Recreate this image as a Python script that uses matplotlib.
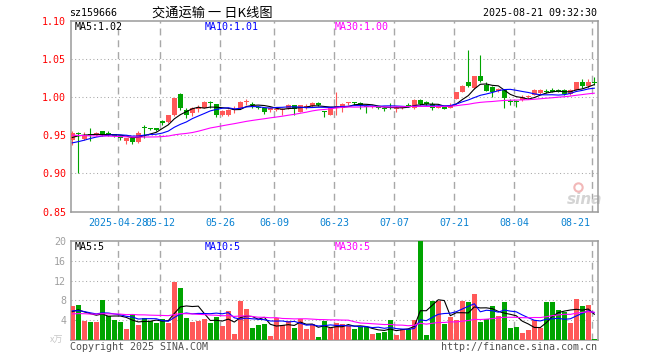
import matplotlib
matplotlib.use("Agg")
import matplotlib.pyplot as plt
import matplotlib.transforms as mtransforms
import numpy as np
import pandas as pd

# ---------------- data ----------------
tick_labels = ["2025-04-28", "05-12", "05-26", "06-09", "06-23", "07-07", "07-21", "08-04", "08-21"]
tick_index = [8, 15, 25, 34, 44, 54, 64, 74, 87]

opens = [0.944, 0.953, 0.945, 0.952, 0.950, 0.955, 0.953, 0.951, 0.949, 0.942,
         0.946, 0.941, 0.961, 0.959, 0.959, 0.969, 0.967, 0.977, 1.004, 0.983,
         0.979, 0.984, 0.986, 0.994, 0.991, 0.976, 0.976, 0.983, 0.985, 0.994,
         0.991, 0.987, 0.985, 0.983, 0.983, 0.983, 0.986, 0.989, 0.981, 0.985,
         0.988, 0.992, 0.981, 0.977, 0.985, 0.986, 0.992, 0.994, 0.992, 0.988,
         0.987, 0.987, 0.986, 0.987, 0.985, 0.985, 0.990, 0.985, 0.996, 0.993,
         0.991, 0.986, 0.987, 0.986, 0.997, 1.006, 1.019, 1.012, 1.028, 1.016,
         1.013, 1.008, 1.009, 0.995, 0.995, 0.996, 1.001, 1.003, 1.005, 1.008,
         1.009, 1.009, 1.009, 1.004, 1.009, 1.019, 1.014, 1.020]
closes = [0.953, 0.951, 0.949, 0.950, 0.953, 0.951, 0.951, 0.949, 0.947, 0.946,
          0.941, 0.953, 0.960, 0.958, 0.957, 0.966, 0.977, 0.999, 0.985, 0.977,
          0.985, 0.987, 0.993, 0.992, 0.976, 0.982, 0.983, 0.984, 0.993, 0.995,
          0.990, 0.985, 0.981, 0.986, 0.984, 0.984, 0.989, 0.984, 0.989, 0.988,
          0.992, 0.989, 0.980, 0.985, 0.988, 0.991, 0.993, 0.992, 0.989, 0.987,
          0.988, 0.985, 0.985, 0.986, 0.986, 0.987, 0.989, 0.996, 0.991, 0.991,
          0.986, 0.988, 0.984, 0.990, 1.006, 1.015, 1.014, 1.027, 1.021, 1.008,
          1.006, 1.011, 0.999, 0.993, 0.993, 1.000, 1.001, 1.009, 1.009, 1.007,
          1.007, 1.007, 1.004, 1.009, 1.019, 1.014, 1.020, 1.019]
highs = [0.955, 0.954, 0.954, 0.959, 0.954, 0.956, 0.955, 0.952, 0.950, 0.947,
         0.947, 0.955, 0.963, 0.960, 0.960, 0.970, 0.977, 0.999, 1.005, 0.985,
         0.987, 0.990, 0.995, 0.995, 0.991, 0.983, 0.984, 0.988, 0.995, 0.997,
         0.993, 0.988, 0.986, 0.987, 0.985, 0.986, 0.991, 0.989, 0.990, 0.991,
         0.993, 0.994, 0.982, 0.986, 1.006, 0.992, 0.994, 0.994, 0.993, 0.989,
         0.989, 0.988, 0.987, 0.992, 0.988, 0.988, 0.992, 0.997, 0.998, 0.995,
         0.993, 0.990, 0.988, 0.992, 1.007, 1.016, 1.062, 1.027, 1.055, 1.020,
         1.015, 1.012, 1.010, 0.998, 0.996, 1.002, 1.003, 1.011, 1.011, 1.011,
         1.012, 1.010, 1.011, 1.011, 1.020, 1.023, 1.023, 1.026]
lows = [0.937, 0.900, 0.944, 0.942, 0.949, 0.949, 0.949, 0.948, 0.944, 0.939,
        0.939, 0.940, 0.946, 0.957, 0.955, 0.963, 0.966, 0.975, 0.983, 0.972,
        0.975, 0.980, 0.985, 0.986, 0.974, 0.975, 0.975, 0.979, 0.984, 0.990,
        0.985, 0.984, 0.978, 0.981, 0.982, 0.976, 0.984, 0.976, 0.980, 0.984,
        0.987, 0.988, 0.974, 0.976, 0.976, 0.981, 0.989, 0.989, 0.984, 0.979,
        0.986, 0.984, 0.982, 0.984, 0.980, 0.984, 0.987, 0.984, 0.990, 0.990,
        0.983, 0.985, 0.984, 0.985, 0.997, 1.006, 1.013, 1.011, 1.020, 1.008,
        1.000, 1.007, 0.986, 0.989, 0.987, 0.995, 0.997, 1.002, 1.004, 1.005,
        1.006, 1.006, 1.003, 1.003, 1.009, 1.012, 1.012, 1.016]
volumes = [6.8, 7.1, 3.9, 3.7, 3.7, 8.0, 4.9, 4.1, 3.7, 2.3,
           5.3, 3.1, 4.5, 3.9, 3.5, 4.3, 3.5, 11.7, 10.5, 4.5,
           3.7, 3.9, 4.3, 3.5, 4.7, 2.9, 5.9, 1.3, 7.9, 6.3,
           2.5, 3.1, 3.3, 0.9, 4.5, 3.1, 3.9, 2.5, 4.3, 2.3,
           3.3, 0.7, 3.9, 2.4, 3.4, 3.2, 2.9, 2.3, 2.7, 2.7,
           1.3, 1.5, 1.7, 4.1, 1.1, 2.3, 2.3, 4.1, 19.9, 1.1,
           7.8, 7.8, 3.3, 4.7, 4.1, 7.8, 7.6, 9.3, 3.7, 4.2,
           6.9, 4.9, 7.6, 2.5, 2.7, 1.5, 2.1, 4.1, 2.4, 7.6,
           7.7, 6.0, 5.6, 3.5, 8.3, 6.9, 7.1, 0.3]
# sessions before the visible window, estimated from where the MA lines start
prior_closes = [0.958, 0.960, 0.957, 0.955, 0.953, 0.956, 0.958, 0.957, 0.954, 0.952,
                0.955, 0.957, 0.956, 0.954, 0.953, 0.955, 0.954, 0.952, 0.953, 0.951,
                0.935, 0.930, 0.928, 0.934, 0.938, 0.940, 0.944, 0.948, 0.950]
prior_volumes = [5.2, 4.6, 5.8, 4.4, 5.0, 6.1, 4.3, 4.9, 5.5, 4.2,
                 5.3, 4.8, 5.6, 4.5, 5.1, 4.7, 5.4, 4.6, 5.0, 5.0,
                 6.5, 5.8, 6.2, 5.9, 5.9, 5.2, 6.0, 5.4, 5.3]
ma_periods = [5, 10, 30]

# ---------------- styles ----------------
RED = "#ff5858"
GREEN = "#00a400"
MA_COLORS = {5: "#000000", 10: "#0000ff", 30: "#ff00ff"}
GRID = "#a8a8a8"
SPINE = "#9a9a9a"
MONO = "DejaVu Sans Mono"
CJK = ["Noto Sans CJK SC", "DejaVu Sans"]
FS = 7.2

W, H = 660, 360
fig = plt.figure(figsize=(W / 100, H / 100), dpi=100)
fig.patch.set_facecolor("white")


def rect(l, t, r, b):
    return [l / W, 1 - b / H, (r - l) / W, (b - t) / H]


ax = fig.add_axes(rect(70.7, 20.5, 597.7, 211.7))
axv = fig.add_axes(rect(70.7, 240.7, 597.7, 340.3))

n = len(closes)
x = np.arange(n)
o = np.array(opens); c = np.array(closes); h = np.array(highs); l = np.array(lows)
v = np.array(volumes)
up = c >= o
cols = np.where(up, RED, GREEN)


def moving(prior, vals, p):
    s = pd.Series(list(prior) + list(vals))
    return s.rolling(p).mean().to_numpy()[len(prior):]


ma_price = {p: moving(prior_closes, closes, p) for p in ma_periods}
ma_vol = {p: moving(prior_volumes, volumes, p) for p in ma_periods}

# ---------------- price panel ----------------
ax.vlines(x, l, h, colors=cols, lw=0.8, zorder=3)
diff = np.abs(c - o)
bh = np.maximum(diff, 0.0013)
bb = np.minimum(o, c) - (bh - diff) / 2
ax.bar(x, bh, bottom=bb, width=0.8, color=cols, lw=0, zorder=3)
for p in ma_periods:
    ax.plot(x, ma_price[p], color=MA_COLORS[p], lw=0.8, zorder=4)

ax.set_xlim(-0.267, 87.567)
ax.set_ylim(0.85, 1.10)
yt = [0.85, 0.90, 0.95, 1.00, 1.05, 1.10]
ax.set_yticks(yt)
ax.set_yticklabels([f"{t:.2f}" for t in yt], color="#ff0000", fontsize=FS, family=MONO)
for t in yt[1:-1]:
    ax.axhline(t, color=GRID, lw=0.75, ls=(0, (1, 2.5)), zorder=1)

# ---------------- volume panel ----------------
axv.bar(x, v, width=0.8, color=cols, lw=0, zorder=3)
for p in ma_periods:
    axv.plot(x, ma_vol[p], color=MA_COLORS[p], lw=0.8, zorder=4)
axv.set_xlim(-0.267, 87.567)
axv.set_ylim(0, 20)
vt = [4, 8, 12, 16, 20]
axv.set_yticks(vt)
axv.set_yticklabels([str(t) for t in vt], color="#a0a0a0", fontsize=FS, family=MONO)
for t in vt[:-1]:
    axv.axhline(t, color=GRID, lw=0.75, ls=(0, (1, 2.5)), zorder=1)

grid_x = [i - 0.33 for i in tick_index]
for a in (ax, axv):
    for gx in grid_x:
        a.axvline(gx, color=GRID, lw=1.0, ls=(0, (5, 3.5)), zorder=1)
    a.set_xticks([])
    a.tick_params(axis="y", length=0, pad=3.2)
    for s in a.spines.values():
        s.set_color(SPINE)
        s.set_linewidth(1.1)

# date labels under the price panel
tr = mtransforms.blended_transform_factory(ax.transData, fig.transFigure)
for k, (lab, gx) in enumerate(zip(tick_labels, grid_x)):
    if k == len(tick_labels) - 1:
        fig.text(gx - 0.33, 1 - 223 / H, lab, transform=tr, ha="right", va="center",
                 color="#0a82d2", fontsize=FS, family=MONO)
    else:
        fig.text(gx, 1 - 223 / H, lab, transform=tr, ha="center", va="center",
                 color="#0a82d2", fontsize=FS, family=MONO)

# ---------------- header & labels ----------------
fig.text(69 / W, 1 - 13 / H, "sz159666", ha="left", va="center", fontsize=FS, family=MONO)
fig.text(212.5 / W, 1 - 13 / H, "交通运输 一 日K线图", ha="center", va="center",
         fontsize=9.5, family=CJK)
fig.text(597 / W, 1 - 13 / H, "2025-08-21 09:32:30", ha="right", va="center",
         fontsize=FS, family=MONO)

lab_x = {5: 74.5, 10: 205, 30: 335}
for p in ma_periods:
    fig.text(lab_x[p] / W, 1 - 27 / H, f"MA{p}:{ma_price[p][-1]:.2f}", ha="left", va="center",
             color=MA_COLORS[p], fontsize=FS, family=MONO)
    fig.text(lab_x[p] / W, 1 - 246.5 / H, f"MA{p}:{int(ma_vol[p][-1])}", ha="left", va="center",
             color=MA_COLORS[p], fontsize=FS, family=MONO)

fig.text(50 / W, 1 - 340 / H, "x万", ha="left", va="center", color="#c8c8c8",
         fontsize=6.5, family=CJK)
fig.text(70 / W, 1 - 346.5 / H, "Copyright 2025 SINA.COM", ha="left", va="center",
         color="#505050", fontsize=FS, family=MONO)
fig.text(597 / W, 1 - 346.5 / H, "http://finance.sina.com.cn", ha="right", va="center",
         color="#505050", fontsize=FS, family=MONO)

# sina watermark
ax.text(0.975, 0.065, "sina", transform=ax.transAxes, ha="center", va="center",
        fontsize=11, fontweight="bold", style="italic", color="#d4d4d4", zorder=2)
ax.plot([0.963], [0.13], transform=ax.transAxes, marker="o", ms=6, mfc="none",
        mec="#f2b8b8", mew=1.5, zorder=2)

fig.savefig("out.png", dpi=100, facecolor="white")
